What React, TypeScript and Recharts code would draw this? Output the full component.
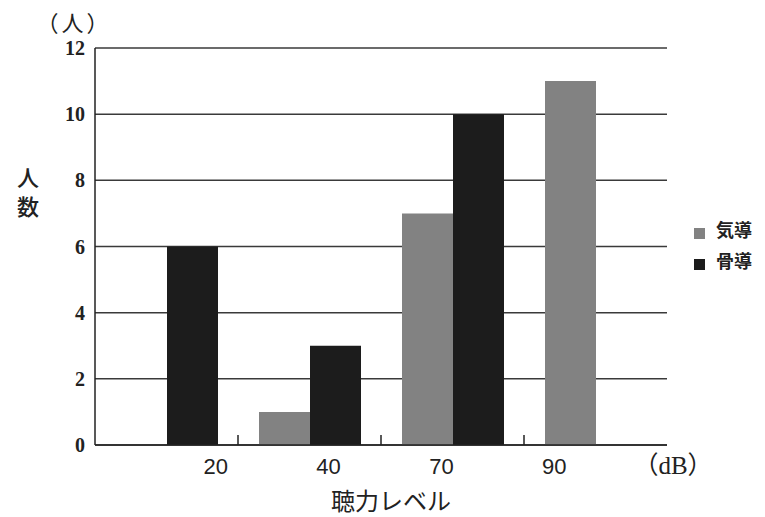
import { BarChart, Bar, XAxis, YAxis, CartesianGrid, Legend } from "recharts";

// hearing level categories and counts per conduction type
const levels = ["20", "40", "70", "90"];
const airConduction = [0, 1, 7, 11];
const boneConduction = [6, 3, 10, 0];
const yTicks = [0, 2, 4, 6, 8, 10, 12];
const levelLabels = ["20", "40", "70", "90", "（dB）"];
const labelTicks = [1, 2, 3, 4, 5];
const boundaryTicks = [1, 2, 3];

const data = levels.map((level, i) => ({
  level,
  slot: i + 1,
  air: airConduction[i],
  bone: boneConduction[i],
}));

const INK = "#222";
const SERIF = "'Liberation Serif', 'Noto Sans CJK JP', serif";
const SANS = "'Liberation Sans', 'Noto Sans CJK JP', sans-serif";
const JP = "'Noto Sans CJK JP', sans-serif";

function LevelTick({ x, y, payload }: any) {
  const label = levelLabels[payload.value - 1];
  const isUnit = payload.value === levelLabels.length;
  return (
    <text
      x={x}
      y={y}
      dx={isUnit ? 6 : 0}
      dy={29}
      textAnchor="middle"
      fill={INK}
      fontSize={isUnit ? 25 : 22}
      fontFamily={isUnit ? SERIF : SANS}
    >
      {label}
    </text>
  );
}

const NoLabel = () => <g />;

function YTitle({ viewBox }: any) {
  const { x, y } = viewBox;
  return (
    <g fill={INK} fontFamily={JP}>
      <text x={x + 74} y={y - 27} textAnchor="middle" dominantBaseline="central" fontSize={22} letterSpacing={3}>
        （人）
      </text>
      <text x={x + 28} y={y + 128} textAnchor="middle" dominantBaseline="central" fontSize={22} fontWeight={500}>
        人
      </text>
      <text x={x + 28} y={y + 157} textAnchor="middle" dominantBaseline="central" fontSize={22} fontWeight={500}>
        数
      </text>
    </g>
  );
}

function XTitle({ viewBox }: any) {
  const { x, y, width } = viewBox;
  return (
    <text
      x={x + width / 2 + 10}
      y={y + 55}
      textAnchor="middle"
      dominantBaseline="central"
      fill={INK}
      fontSize={24}
      fontFamily={JP}
    >
      聴力レベル
    </text>
  );
}

export default function App() {
  return (
    <div
      style={{
        position: "absolute",
        left: 0,
        top: 0,
        width: 765,
        height: 517,
        background: "#fff",
      }}
    >
      <BarChart
        width={765}
        height={517}
        data={data}
        margin={{ top: 48, right: 98, left: 0, bottom: 42 }}
        barGap={0}
      >
        <CartesianGrid vertical={false} stroke="#3a3a3a" strokeWidth={1.5} />
        <XAxis xAxisId="cat" dataKey="level" hide height={0} />
        <XAxis
          xAxisId="tk"
          dataKey="slot"
          type="number"
          domain={[0, 4]}
          ticks={boundaryTicks}
          allowDataOverflow
          mirror
          height={1}
          tick={<NoLabel />}
          tickSize={10}
          tickLine={{ stroke: INK, strokeWidth: 1.5 }}
          axisLine={{ stroke: INK, strokeWidth: 1.5 }}
          label={<XTitle />}
        />
        <XAxis
          xAxisId="lbl"
          dataKey="slot"
          type="number"
          domain={[0, 5]}
          ticks={labelTicks}
          allowDataOverflow
          interval={0}
          padding={{ left: 8, right: 0 }}
          height={30}
          axisLine={false}
          tickLine={false}
          tickSize={0}
          tickMargin={0}
          tick={<LevelTick />}
        />
        <YAxis
          domain={[0, 12]}
          ticks={yTicks}
          width={95}
          tickLine={false}
          tickSize={0}
          tickMargin={10}
          axisLine={{ stroke: INK, strokeWidth: 1.5 }}
          tick={{ fill: INK, fontSize: 20, fontWeight: 700, fontFamily: SERIF }}
          label={<YTitle />}
        />
        <YAxis
          yAxisId="frame"
          orientation="right"
          width={0}
          tick={false}
          tickLine={false}
          axisLine={{ stroke: INK, strokeWidth: 1.5 }}
        />
        <Legend
          layout="vertical"
          align="center"
          verticalAlign="middle"
          iconType="square"
          iconSize={11}
          wrapperStyle={{ left: 694, top: 215, width: 70, lineHeight: "29px" }}
          formatter={(value) => (
            <span
              style={{
                color: INK,
                fontSize: 18,
                fontWeight: 700,
                fontFamily: JP,
                marginLeft: 7,
              }}
            >
              {value}
            </span>
          )}
        />
        <Bar xAxisId="cat" dataKey="air" name="気導" fill="#828282" barSize={51} isAnimationActive={false} />
        <Bar xAxisId="cat" dataKey="bone" name="骨導" fill="#1c1c1c" barSize={51} isAnimationActive={false} />
      </BarChart>
    </div>
  );
}
